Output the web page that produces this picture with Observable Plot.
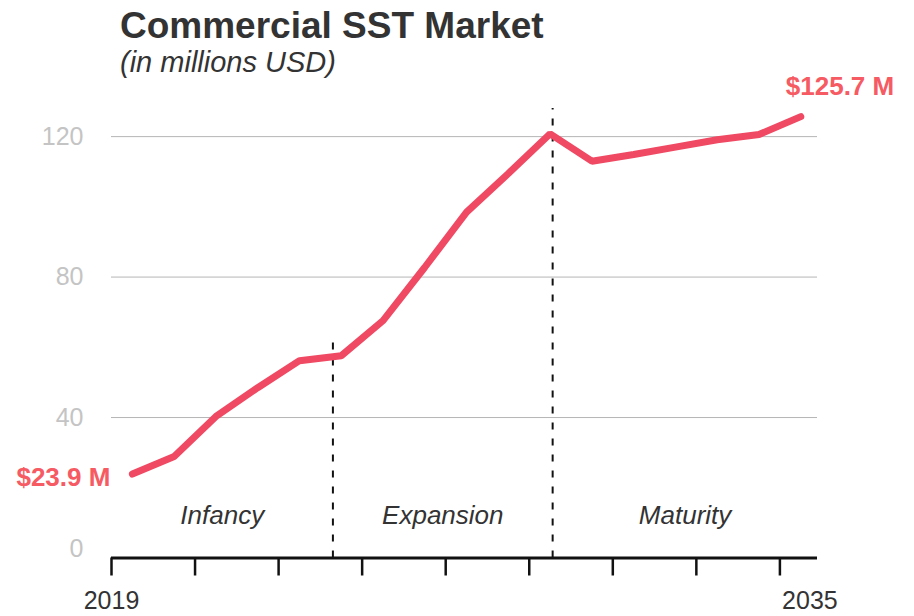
<!DOCTYPE html>
<html>
<head>
<meta charset="utf-8">
<script src="https://cdn.jsdelivr.net/npm/d3@7"></script>
<script src="https://cdn.jsdelivr.net/npm/@observablehq/plot@0.6"></script>
<style>
  html, body { margin: 0; padding: 0; background: white; overflow: hidden; }
  #wrap { position: relative; width: 914px; height: 616px; overflow: hidden; font-family: "Liberation Sans", Arial, sans-serif; }
  #wrap svg { position: absolute; left: 0; top: 0; }
  .title { position: absolute; left: 120px; top: 7px; font-size: 37px; line-height: 37px; font-weight: bold; color: #333; white-space: nowrap; z-index: 2; }
  .sub { position: absolute; left: 120px; top: 48px; font-size: 29px; line-height: 29px; font-style: italic; color: #333; white-space: nowrap; z-index: 2; }
</style>
</head>
<body>
<div id="wrap">
  <div class="title">Commercial SST Market</div>
  <div class="sub">(in millions USD)</div>
</div>
<script>
const years = [2019, 2020, 2021, 2022, 2023, 2024, 2025, 2026, 2027, 2028, 2029, 2030, 2031, 2032, 2033, 2034, 2035];
const values = [23.9, 28.9, 40.3, 48.5, 56.2, 57.6, 67.6, 82.8, 98.5, 109.5, 120.8, 113.0, 114.9, 117.0, 119.1, 120.6, 125.7];
const yTicks = [0, 40, 80, 120];
const xTicks = [2019, 2021, 2023, 2025, 2027, 2029, 2031, 2033, 2035];
const xTickLabels = ["2019", "2035"];
const phases = ["Infancy", "Expansion", "Maturity"];
const phaseBounds = [2019, 2024.3, 2029.56, 2035.9];
const phaseDividerTops = [63, 128];

const LINE = "#ef4963";
const LABEL = "#f65a62";
const FONT = '"Liberation Sans", Arial, sans-serif';

const data = years.map((year, i) => ({year, value: values[i]}));
const first = data[0];
const last = data[data.length - 1];

const chart = Plot.plot({
  width: 914,
  height: 616,
  marginLeft: 111,
  marginRight: 97,
  marginTop: 101,
  marginBottom: 58.5,
  x: {domain: [phaseBounds[0], phaseBounds[3]]},
  y: {domain: [0, 130], axis: null},
  style: {fontFamily: FONT, background: "white", overflow: "visible"},
  marks: [
    Plot.ruleY(yTicks.filter(v => v > 0), {stroke: "#b5b5b5", strokeWidth: 1}),
    Plot.axisX({ticks: xTicks, tickSize: 18, tickFormat: () => "", stroke: "#111", strokeWidth: 2.5}),
    Plot.ruleX(phaseBounds.slice(1, 3), {
      x: d => d, y1: 0, y2: (d, i) => phaseDividerTops[i],
      stroke: "#111", strokeWidth: 2, strokeDasharray: "7,9"
    }),
    Plot.ruleY([0], {stroke: "#111", strokeWidth: 3}),
    Plot.line(data, {
      x: d => d.year + 0.5, y: "value",
      stroke: LINE, strokeWidth: 7, strokeLinecap: "round", strokeLinejoin: "miter"
    }),
    Plot.text(phases, {
      x: (d, i) => (phaseBounds[i] + phaseBounds[i + 1]) / 2, y: () => 12,
      text: d => d, fontSize: 26, fontStyle: "italic", fill: "#333"
    }),
    Plot.text(yTicks.filter(v => v > 0), {
      y: d => d, text: d => String(d), frameAnchor: "left", textAnchor: "end",
      dx: -28, fontSize: 25, fill: "#c4c4c4"
    }),
    Plot.text(yTicks.filter(v => v === 0), {
      y: d => d, text: d => String(d), frameAnchor: "left", textAnchor: "end",
      dx: -28, dy: -9, fontSize: 25, fill: "#c4c4c4"
    }),
    Plot.text([first], {
      x: d => d.year + 0.5, y: "value", text: d => `$${d.value} M`,
      textAnchor: "end", dx: -22, dy: 4, fontSize: 26, fontWeight: "bold", fill: LABEL
    }),
    Plot.text([last], {
      x: d => d.year + 0.5, y: "value", text: d => `$${d.value} M`,
      textAnchor: "start", dx: -15, dy: -30, fontSize: 26, fontWeight: "bold", fill: LABEL
    }),
    Plot.text([xTickLabels[0]], {
      x: () => xTicks[0], frameAnchor: "bottom", text: d => d,
      dy: 51, fontSize: 25, fill: "#333"
    }),
    Plot.text([xTickLabels[1]], {
      x: () => xTicks[xTicks.length - 1], frameAnchor: "bottom", text: d => d,
      dx: 30, dy: 51, fontSize: 25, fill: "#333"
    })
  ]
});

document.getElementById("wrap").prepend(chart);
</script>
</body>
</html>
